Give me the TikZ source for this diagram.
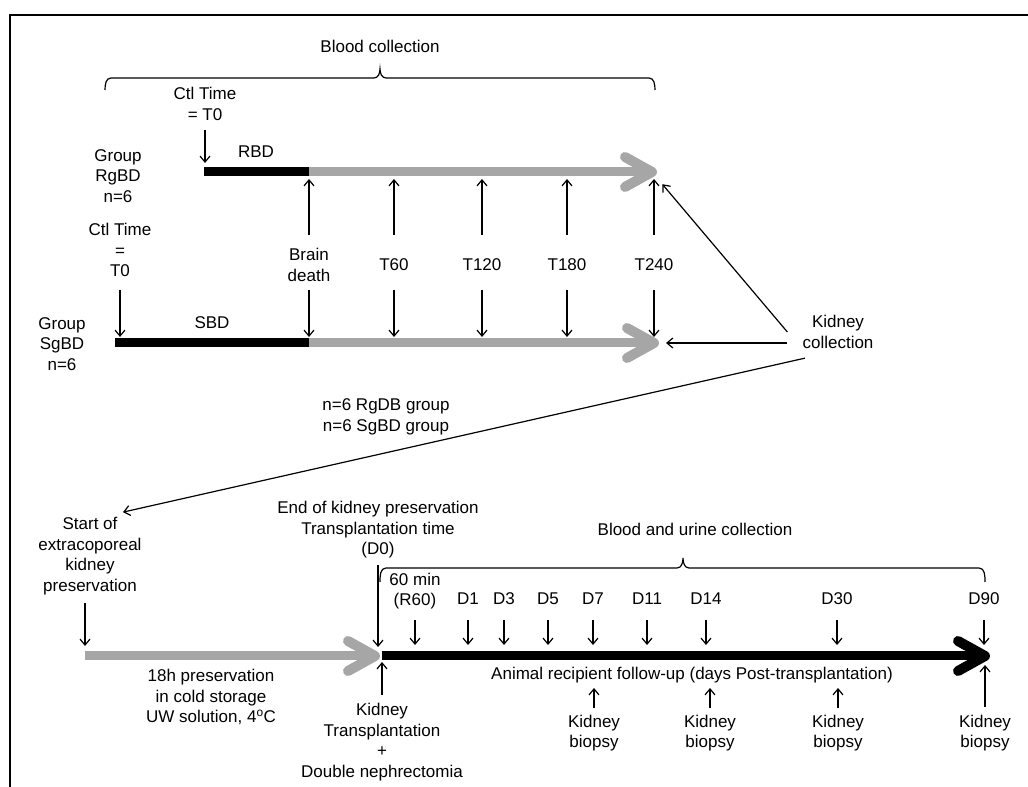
\documentclass[tikz,border=0pt]{standalone}
\usepackage{fontspec}
\setmainfont{Liberation Sans}
\usetikzlibrary{arrows.meta,calc}
\definecolor{barGray}{RGB}{166,166,166}
\tikzset{
	lbl/.style={align=center, inner sep=2pt, font=\fontsize{17}{20.5}\selectfont},
	tick/.style={-{Straight Barb[length=6pt,width=10pt]}, line width=1.2pt},
	bar/.style={line width=9pt},
	chev/.pic={
		\draw[line width=10pt, line cap=round, line join=round]
		(-27,15) -- (0,0) -- (-27,-15);
	},
}

\begin{document}
\begin{tikzpicture}[x=1pt, y=1pt]
\useasboundingbox (0,0) rectangle (1028,787);
% the frame
\draw[line width=2pt] (10,0) -- (10,772) -- (1028,772);

% the bars
\coordinate (rStart) at (204,615);
\coordinate (rDeath) at (309,615);
\coordinate (rTip) at (652,615);
\coordinate (sStart) at (115,444);
\coordinate (sDeath) at (309,444);
\coordinate (sTip) at (654,444);
\coordinate (gStart) at (85,131);
\coordinate (gTip) at (375,131);
\coordinate (bStart) at (382,131);
\coordinate (bTip) at (985,131);
\draw[bar] (rStart) -- (rDeath);
\draw[bar, barGray] (rDeath) -- ([xshift=-4pt]rTip);
\pic[barGray] at (rTip) {chev};
\draw[bar] (sStart) -- (sDeath);
\draw[bar, barGray] (sDeath) -- ([xshift=-4pt]sTip);
\pic[barGray] at (sTip) {chev};
\draw[bar, barGray] (gStart) -- ([xshift=-4pt]gTip);
\pic[barGray] at (gTip) {chev};
\draw[bar] (bStart) -- ([xshift=-4pt]bTip);
\pic at (bTip) {chev};

% the braces
\draw[line width=1.2pt] (105,697) to[out=90,in=180] (111,709) -- (374,709)
	to[out=0,in=-90] (380,718) to[out=-90,in=180] (386,709) -- (649,709) to[out=0,in=90] (655,697);
\draw[line width=1.2pt] (380,205) to[out=90,in=180] (386,219) -- (677,219)
	to[out=0,in=-90] (683,229) to[out=-90,in=180] (689,219) -- (979,219) to[out=0,in=90] (985,205);

% the names, upper part
\node[lbl] (blood) at (380,741) {Blood collection};
\node[lbl] (ctlR) at (205,683) {Ctl Time\\= T0};
\node[lbl] (rbd) at (256,635) {RBD};
\node[lbl] (grpR) at (118,611) {Group\\RgBD\\n=6};
\node[lbl] (ctlS) at (120,537) {Ctl Time\\=\\T0};
\node[lbl] (sbd) at (212,464) {SBD};
\node[lbl] (grpS) at (62,443) {Group\\SgBD\\n=6};
\node[lbl] (kc) at (838,455) {Kidney\\collection};
\node[lbl] (groups) at (386,370) {n=6 RgDB group\\n=6 SgBD group};

% the names, lower part
\node[lbl] (start) at (90,231) {Start of\\extracoporeal\\kidney\\preservation};
\node[lbl] (endp) at (378,257) {End of kidney preservation\\Transplantation time\\(D0)};
\node[lbl] (urine) at (695,258) {Blood and urine collection};
\node[lbl] (r60) at (415,196) {60 min\\(R60)};
\node[lbl] (cold) at (211,90) {18h preservation\\in cold storage\\UW solution, 4\textsuperscript{o}C};
\node[lbl] (ktx) at (382,45) {Kidney\\Transplantation\\+\\Double nephrectomia};
\node[lbl] (follow) at (692,112) {Animal recipient follow-up (days Post-transplantation)};

% the arrows, upper part
\draw[tick, shorten <=26pt, shorten >=9pt] (ctlR.center) -- (ctlR |- rStart);
\draw[tick, shorten <=40pt, shorten >=6pt] (ctlS.center) -- (ctlS |- sStart);
\foreach \Lbl/\Xpos/\Txt in {bd/309/{Brain\\death}, t60/394/T60, t120/482/T120, t180/567/T180, t240/654/T240}{
	\node[lbl] (\Lbl) at (\Xpos,522) {\Txt};
	\draw[tick, shorten <=30pt, shorten >=7pt] (\Lbl.center) -- (\Lbl |- rTip);
	\draw[tick, shorten <=25pt, shorten >=6pt] (\Lbl.center) -- (\Lbl |- sTip);
}
\coordinate (kcFoot) at ([xshift=-13pt]kc.west);
\draw[tick, shorten >=16pt] (kcFoot) -- (rTip);
\draw[tick, shorten >=12pt] (kcFoot |- sTip) -- (sTip);
\draw[tick, shorten <=34pt] (kc.south) -- ([xshift=33pt,yshift=3pt]start.north);

% the arrows, lower part
\draw[tick, shorten <=6pt, shorten >=10pt] (start.south -| gStart) -- (gStart);
\draw[tick, shorten <=35pt, shorten >=9pt] (endp.center) -- (endp |- bStart);
\draw[tick, shorten <=29pt, shorten >=11pt] (r60.center) -- (r60 |- bStart);
\foreach \Day/\Xpos in {1/468, 3/504, 5/548, 7/593, 11/647, 14/706, 30/837, 90/984}{
	\node[lbl] (d\Day) at (\Xpos,188) {D\Day};
	\draw[tick, shorten <=21pt, shorten >=11pt] (d\Day.center) -- (d\Day |- bStart);
}
\draw[tick, shorten <=47pt, shorten >=6pt] (ktx.center) -- (ktx |- bStart);
\foreach \Day/\Xpos in {7/594, 14/710, 30/838}{
	\node[lbl] (bx\Day) at (\Xpos,54) {Kidney\\biopsy};
	\draw[tick, shorten <=25pt, shorten >=13pt] (bx\Day.center) -- (bx\Day |- follow);
}
\node[lbl] (bx90) at (985,54) {Kidney\\biopsy};
\draw[tick, shorten <=26pt, shorten >=9pt] (bx90.center) -- (bx90 |- bTip);
\end{tikzpicture}
\end{document}
